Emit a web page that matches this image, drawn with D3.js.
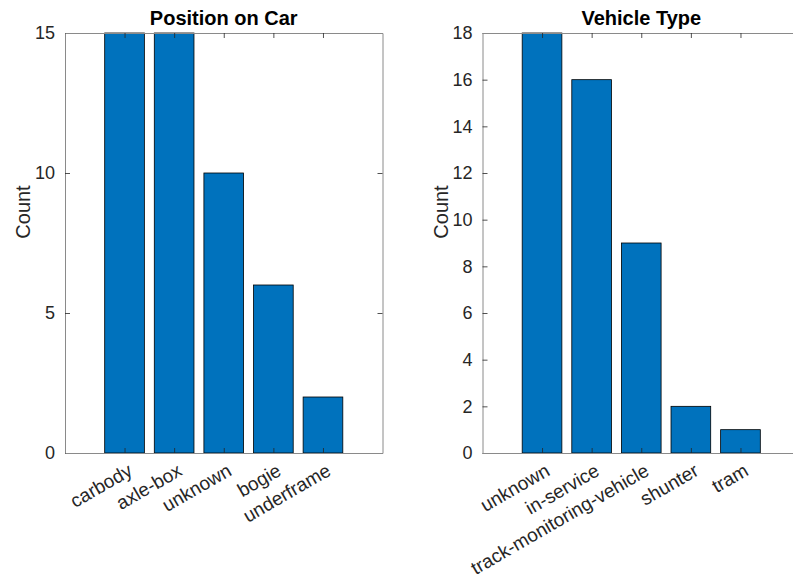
<!DOCTYPE html>
<html>
<head>
<meta charset="utf-8">
<script src="https://cdn.jsdelivr.net/npm/d3@7"></script>
<style>
  body { margin: 0; background: #fff; }
  svg { font-family: "Liberation Sans", Arial, Helvetica, sans-serif; }
</style>
</head>
<body>
<svg id="chart" width="793" height="580"></svg>
<script>
// data
const positionCats = ["carbody", "axle-box", "unknown", "bogie", "underframe"];
const positionCounts = [15, 15, 10, 6, 2];
const positionTicks = [0, 5, 10, 15];

const vehicleCats = ["unknown", "in-service", "track-monitoring-vehicle", "shunter", "tram"];
const vehicleCounts = [18, 16, 9, 2, 1];
const vehicleTicks = [0, 2, 4, 6, 8, 10, 12, 14, 16, 18];

const svg = d3.select("#chart");
const barColor = "#0072BD";
const axisColor = "#262626";

function drawPanel(left, cats, counts, ticks, title) {
    const top = 33, height = 420, width = 317.5;
    const g = svg.append("g").attr("transform", `translate(${left},${top})`);

    // positions 1..n, limits -0.2 .. n+1.2 like the matlab axes
    const x = d3.scaleLinear().domain([-0.2, cats.length + 1.2]).range([0, width]);
    const y = d3.scaleLinear().domain([0, d3.max(ticks)]).range([height, 0]);
    const bw = x(0.8) - x(0);

    g.selectAll(".bar")
        .data(counts)
        .enter().append("rect")
        .attr("class", "bar")
        .attr("x", (d, i) => x(i + 1) - bw / 2)
        .attr("y", d => y(d))
        .attr("width", bw)
        .attr("height", d => height - y(d))
        .style("fill", barColor)
        .style("stroke", "#000")
        .style("stroke-width", 0.8);

    // left axis with labels, inner ticks
    const yAxis = g.append("g")
        .call(d3.axisLeft(y).tickValues(ticks).tickSizeInner(-5).tickSizeOuter(0).tickPadding(10));
    // right side ticks (box)
    g.append("g").attr("transform", `translate(${width},0)`)
        .call(d3.axisRight(y).tickValues(ticks).tickSizeInner(-5).tickSizeOuter(0).tickFormat(""));
    // bottom + top ticks
    const xIdx = cats.map((c, i) => i + 1);
    g.append("g").attr("transform", `translate(0,${height})`)
        .call(d3.axisBottom(x).tickValues(xIdx).tickSizeInner(-5).tickSizeOuter(0).tickFormat(""));
    g.append("g")
        .call(d3.axisTop(x).tickValues(xIdx).tickSizeInner(-5).tickSizeOuter(0).tickFormat(""));

    g.selectAll(".domain").attr("stroke", "#8a8a8a").attr("stroke-width", 1);
    g.selectAll(".tick line").attr("stroke", axisColor).attr("stroke-width", 0.8);
    yAxis.selectAll("text").attr("fill", axisColor).style("font-size", "18px");

    // rotated category labels
    g.selectAll(".catlabel")
        .data(cats)
        .enter().append("text")
        .attr("class", "catlabel")
        .attr("transform", (d, i) => `translate(${x(i + 1) + 2},${height + 9}) rotate(-30)`)
        .attr("text-anchor", "end")
        .attr("dy", "0.75em")
        .attr("fill", axisColor)
        .style("font-size", "19px")
        .text(d => d);

    g.append("text")
        .attr("x", width / 2)
        .attr("y", -8)
        .attr("text-anchor", "middle")
        .style("font-size", "20px")
        .style("font-weight", "bold")
        .attr("fill", "#000")
        .text(title);

    g.append("text")
        .attr("transform", "rotate(-90)")
        .attr("x", -height / 2 + 31)
        .attr("y", -35)
        .attr("text-anchor", "middle")
        .style("font-size", "20px")
        .attr("fill", axisColor)
        .text("Count");
}

drawPanel(65, positionCats, positionCounts, positionTicks, "Position on Car");
drawPanel(482.5, vehicleCats, vehicleCounts, vehicleTicks, "Vehicle Type");
</script>
</body>
</html>
